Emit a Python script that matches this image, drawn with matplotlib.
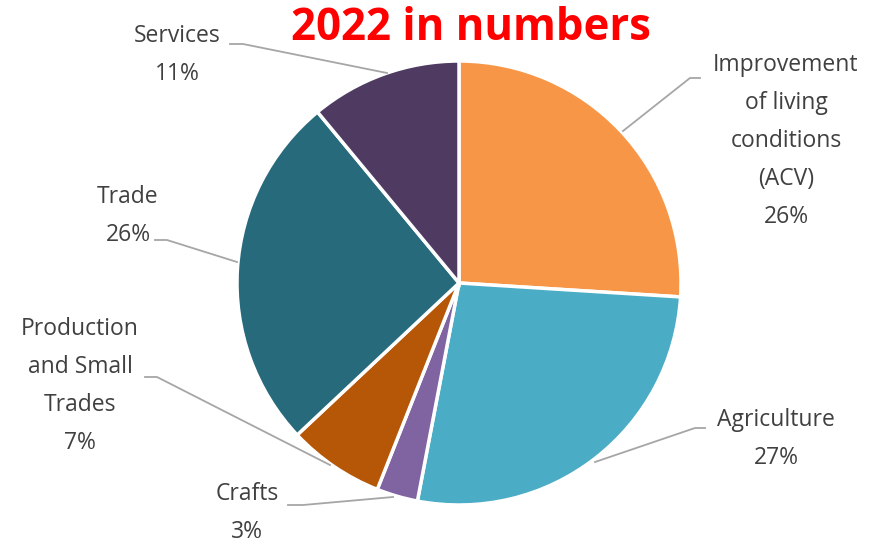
import matplotlib
matplotlib.use('Agg')
import matplotlib.pyplot as plt

# Répartition des projets 2022 par secteur
categories = ['Improvement\nof living\nconditions\n(ACV)', 'Agriculture', 'Crafts',
              'Production\nand Small\nTrades', 'Trade', 'Services']
values = [26, 27, 3, 7, 26, 11]
colors = ['#F79646', '#4BACC6', '#8064A2', '#B65708', '#276A7C', '#4F3B62']

W, H = 870, 546
plt.rcParams['font.family'] = ['Open Sans', 'DejaVu Sans']

fig = plt.figure(figsize=(W / 100, H / 100), dpi=100)
ax = fig.add_axes([0, 0, 1, 1])

ax.pie(values, colors=colors, startangle=90, counterclock=False,
       center=(459, H - 283), radius=222,
       wedgeprops={'edgecolor': 'white', 'linewidth': 2.5})

# position des étiquettes (centre du bloc de texte) et des traits de rappel, en pixels
label_pos = [(786, 141), (776, 439), (247, 513), (80, 386), (128, 216), (177, 55)]
leaders = [
    [(700, 78), (690, 78), (623, 131)],
    [(705, 428), (695, 428), (595, 462)],
    [(288, 505), (303, 505), (393, 497)],
    [(145, 377), (157, 377), (330, 465)],
    [(155, 240), (167, 240), (237, 262)],
    [(230, 44), (243, 44), (387, 73)],
]

for cat, val, (x, y), pts in zip(categories, values, label_pos, leaders):
    ax.text(x, H - y, f'{cat}\n{val}%', ha='center', va='center',
            fontsize=16.5, color='#404040', linespacing=1.78)
    ax.plot([p[0] for p in pts], [H - p[1] for p in pts], color='#A6A6A6', lw=1.3)

ax.text(471, H - 28, '2022 in numbers', ha='center', va='center',
        fontsize=31.5, fontweight='bold', color='#FF0000')

ax.set_xlim(0, W)
ax.set_ylim(0, H)
ax.axis('off')

plt.savefig('out.png', dpi=100)
